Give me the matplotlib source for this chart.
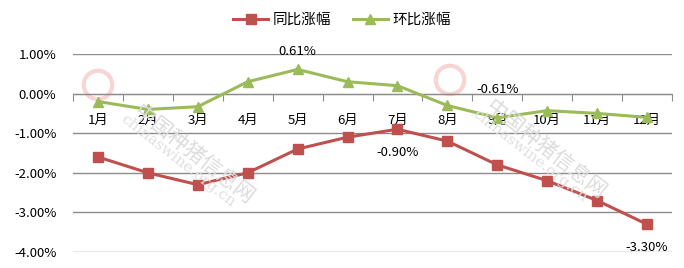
import matplotlib
matplotlib.use("Agg")
import matplotlib.pyplot as plt
from matplotlib.lines import Line2D

plt.rcParams['font.family'] = ['Noto Sans CJK SC', 'DejaVu Sans']

months = ['1月', '2月', '3月', '4月', '5月', '6月', '7月', '8月', '9月', '10月', '11月', '12月']
yoy = [-1.6, -2.0, -2.3, -2.0, -1.4, -1.1, -0.9, -1.2, -1.8, -2.2, -2.7, -3.3]
mom = [-0.2, -0.4, -0.33, 0.3, 0.61, 0.3, 0.2, -0.3, -0.61, -0.43, -0.5, -0.6]
yticks = [1, 0, -1, -2, -3, -4]
ytick_labels = ['1.00%', '0.00%', '-1.00%', '-2.00%', '-3.00%', '-4.00%']

red = '#C0504D'
green = '#9BBB59'
grid = '#8C8C8C'

fig = plt.figure(figsize=(6.84, 2.68), dpi=100)
ax = fig.add_axes([73/684, 1-252/268, (672-73)/684, (252-54)/268])
x = list(range(1, len(months)+1))

for yv in yticks:
    ax.axhline(yv, color=grid, lw=1.0, zorder=1)

# watermark
for lx, ly in ((98, 85), (450, 80)):
    fx, fy = lx/684, 1-ly/268
    fig.text(fx+0.045, fy-0.06, '中国种猪信息网', rotation=-38,
             fontsize=15, color='#DCDCDC', ha='left', va='top', zorder=0)
    fig.text(fx+0.03, fy-0.10, 'chinaswine.org.cn', rotation=-38,
             fontsize=11, family='DejaVu Serif', color='#E0E0E0', ha='left', va='top', zorder=0)
    ax.scatter([fx], [fy], transform=fig.transFigure, s=420, facecolors='none',
               edgecolors='#F8D4D4', linewidths=3, zorder=0)

ax.plot(x, yoy, color=red, lw=2.2, marker='s', markersize=7, zorder=3)
ax.plot(x, mom, color=green, lw=2.2, marker='^', markersize=7, zorder=3)

ax.set_xlim(0.5, 12.5)
ax.set_ylim(-4, 1)
ax.set_yticks(yticks)
ax.set_yticklabels(ytick_labels, fontsize=9.5)
ax.tick_params(axis='y', length=0, pad=12)

for s in ['top', 'right', 'left']:
    ax.spines[s].set_visible(False)
ax.spines['bottom'].set_position(('data', 0))
ax.spines['bottom'].set_color(grid)
ax.set_xticks([i + 0.5 for i in range(0, 13)])
ax.set_xticklabels([])
ax.tick_params(axis='x', which='major', length=5, color=grid, direction='out')
ax.set_xticks(x, minor=True)
ax.set_xticklabels(months, minor=True, fontsize=9.5)
ax.tick_params(axis='x', which='minor', length=0, pad=15)

# data labels
ax.annotate('0.61%', (5, mom[4]), xytext=(0, 8), textcoords='offset points', ha='center', va='bottom', fontsize=9.5)
ax.annotate('-0.61%', (9, mom[8]), xytext=(0, 16), textcoords='offset points', ha='center', va='bottom', fontsize=9.5)
ax.annotate('-0.90%', (7, yoy[6]), xytext=(0, -12), textcoords='offset points', ha='center', va='top', fontsize=9.5)
ax.annotate('-3.30%', (12, yoy[11]), xytext=(0, -12), textcoords='offset points', ha='center', va='top', fontsize=9.5)

handles = [Line2D([], [], color=red, lw=2.2, marker='s', markersize=7),
           Line2D([], [], color=green, lw=2.2, marker='^', markersize=7)]
fig.legend(handles, ['同比涨幅', '环比涨幅'], loc='center', bbox_to_anchor=(0.5, 1-20/268),
           ncol=2, frameon=False, fontsize=10.5, handlelength=2.4, handletextpad=0.3, columnspacing=1.5)

fig.savefig('out.png', dpi=100, facecolor='white')
